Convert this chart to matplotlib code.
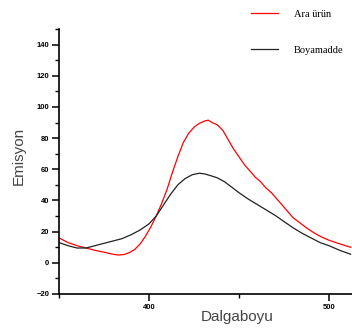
import matplotlib
matplotlib.use("Agg")
import matplotlib.pyplot as plt
from matplotlib.ticker import MultipleLocator

# Data
red_x = [350, 355, 360, 365, 370, 375, 380, 383, 386, 389, 392, 395, 398, 401, 404, 407, 410, 413, 416, 419,
         422, 425, 428, 431, 433, 435, 438, 441, 444, 447, 450, 453, 456, 459, 462, 465, 468, 471, 474, 477,
         480, 484, 488, 492, 496, 500, 505, 512]
red_y = [16, 13, 11, 9.5, 8, 6.8, 5.5, 5, 5.3, 6.5, 8.5, 12, 17, 23, 30, 38, 47, 58, 68, 77,
         83, 87, 89.5, 91, 91.5, 90, 88.5, 85, 79, 73, 68, 63, 59, 55, 52, 48, 45, 41, 37, 33,
         29, 25.5, 22, 19, 16.5, 14.5, 12.5, 10]

black_x = [350, 355, 360, 365, 370, 375, 380, 385, 390, 395, 400, 404, 408, 412, 416, 420, 424, 428, 431, 434,
           438, 442, 446, 450, 455, 460, 465, 470, 475, 480, 485, 490, 495, 500, 506, 512]
black_y = [13, 11, 9.5, 9.5, 11, 12.5, 14, 15.5, 18, 21, 25, 30, 37, 44, 50, 54, 56.5, 57.5, 57, 56,
           54.5, 52, 48.5, 45, 41, 37.5, 34, 30.5, 26.5, 22.5, 19, 16, 13, 11, 8, 5.5]

labels = ["Ara ürün", "Boyamadde"]
x_ticks = [400, 500]
y_ticks = [-20, 0, 20, 40, 60, 80, 100, 120, 140]

fig = plt.figure(figsize=(3.52, 3.33), dpi=100)
ax = fig.add_axes([59/352, 1-294/333, 1-59/352, (294-29)/333])

l1, = ax.plot(red_x, red_y, color="#ff0000", lw=0.9, label=labels[0])
l2, = ax.plot(black_x, black_y, color="#222222", lw=0.9, label=labels[1])

ax.set_xlim(350, 350 + (352-59)/1.8)
ax.set_ylim(-20, 150)
ax.set_xticks(x_ticks)
ax.set_yticks(y_ticks)
ax.xaxis.set_minor_locator(MultipleLocator(50))
ax.yaxis.set_minor_locator(MultipleLocator(10))
for s in ["top", "right"]:
    ax.spines[s].set_visible(False)
for s in ["left", "bottom"]:
    ax.spines[s].set_linewidth(1.2)
ax.tick_params(which="major", direction="out", length=5, width=1.1, labelsize=5.5, pad=2)
ax.tick_params(which="minor", direction="out", length=3, width=1.0)
for t in ax.get_xticklabels() + ax.get_yticklabels():
    t.set_fontweight("bold")
    t.set_family("Liberation Sans")

ax.set_xlabel("Dalgaboyu", fontsize=11, color="#444444", family="Liberation Sans")
ax.set_ylabel("Emisyon", fontsize=11, color="#444444", family="Liberation Sans")
ax.xaxis.set_label_coords((237-59)/293, -(310-294)/265)
ax.yaxis.set_label_coords(-(59-26)/293, (294-156)/265)

leg = fig.legend(handles=[l1, l2], loc="upper left", bbox_to_anchor=(242/352, 1-0/333),
                 frameon=False, prop={"family": "Liberation Serif", "size": 7.5},
                 handlelength=2.6, handletextpad=1.5, labelspacing=2.6)

fig.savefig("out.png", dpi=100)
